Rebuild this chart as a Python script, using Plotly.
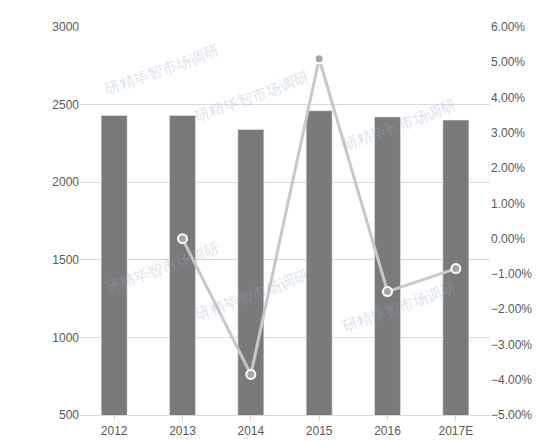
import plotly.graph_objects as go

years = ['2012', '2013', '2014', '2015', '2016', '2017E']
volume = [2430, 2430, 2340, 2460, 2420, 2400]
growth_years = ['2013', '2014', '2015', '2016', '2017E']
growth = [0.0, -3.85, 5.1, -1.5, -0.85]

fig = go.Figure()
fig.add_trace(go.Bar(x=years, y=volume, marker_color='#7a7a7a', width=0.38, yaxis='y'))
fig.add_trace(go.Scatter(x=growth_years, y=growth, yaxis='y2', mode='lines+markers',
                         line=dict(color='#c8c8c8', width=3),
                         marker=dict(size=9, color='#a6a6a6', line=dict(color='white', width=2))))

# faint watermark text
for x, y in [(0.05, 0.97), (0.42, 0.9), (0.05, 0.3), (0.42, 0.23), (0.93, 0.83), (0.93, 0.2)]:
    fig.add_annotation(x=x, y=y, xref='paper', yref='paper', text='研精毕智市场调研',
                       showarrow=False, textangle=-20, font=dict(size=15, color='rgba(150,170,200,0.35)'))

fig.update_layout(
    width=554, height=442, showlegend=False,
    margin=dict(l=72, r=72, t=15, b=28),
    plot_bgcolor='white', paper_bgcolor='white',
    font=dict(family='Liberation Sans', size=12, color='#595959'),
    xaxis=dict(showline=True, linecolor='#d9d9d9', ticks='outside', tickcolor='#d9d9d9'),
    yaxis=dict(range=[500, 3000], dtick=500, gridcolor='#d9d9d9', zeroline=False),
    yaxis2=dict(range=[-5, 6], dtick=1, overlaying='y', side='right', showgrid=False,
                zeroline=False, ticksuffix='%', tickformat='.2f'),
)
fig.write_html("out.html")
